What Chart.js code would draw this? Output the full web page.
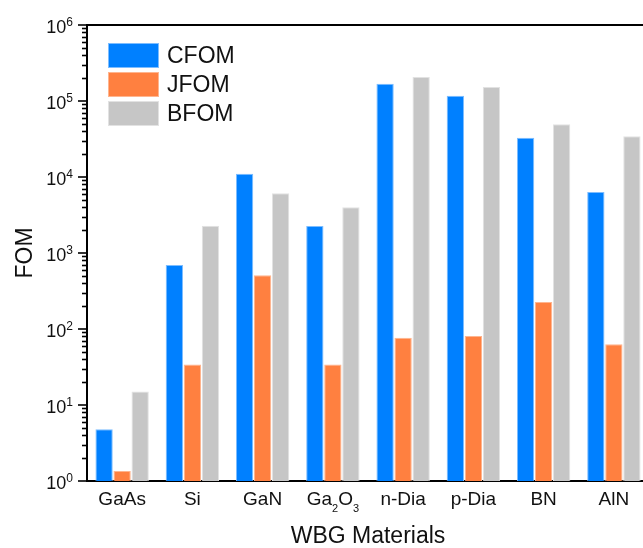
<!DOCTYPE html>
<html>
<head>
<meta charset="utf-8">
<script src="https://cdn.jsdelivr.net/npm/chart.js@4.4.1/dist/chart.umd.min.js"></script>
<style>
  html, body { margin: 0; padding: 0; overflow: hidden; background: #fff; }
  canvas { display: block; }
</style>
</head>
<body>
<canvas id="fom" width="649" height="548"></canvas>
<script>
const materials = ["GaAs", "Si", "GaN", "Ga₂O₃", "n-Dia", "p-Dia", "BN", "AlN"];
const cfom = [4.8, 695, 11050, 2260, 169000, 117500, 32900, 6350];
const jfom = [1.35, 34, 510, 34, 77, 81, 226, 63];
const bfom = [15, 2290, 6100, 3990, 207000, 153000, 49300, 34300];
const decades = [1, 10, 100, 1000, 10000, 100000, 1000000];

const FONT = "'Liberation Sans', Arial, sans-serif";
const INK = "#111";
const SUBS = { "₀": "0", "₁": "1", "₂": "2", "₃": "3", "₄": "4", "₅": "5", "₆": "6", "₇": "7", "₈": "8", "₉": "9" };

// draws a run of text pieces {text, size, dy} on one baseline
function drawRich(ctx, parts, x, y, align) {
  let total = 0;
  parts.forEach(p => {
    ctx.font = p.size + "px " + FONT;
    p.w = ctx.measureText(p.text).width;
    total += p.w;
  });
  let cx = align === "right" ? x - total : align === "center" ? x - total / 2 : x;
  ctx.textAlign = "left";
  ctx.textBaseline = "alphabetic";
  parts.forEach(p => {
    ctx.font = p.size + "px " + FONT;
    ctx.fillText(p.text, cx, y + p.dy);
    cx += p.w;
  });
}

function labelParts(label) {
  const parts = [];
  for (const ch of label) {
    if (SUBS[ch]) parts.push({ text: SUBS[ch], size: 11, dy: 6.5 });
    else if (parts.length && parts[parts.length - 1].size === 19) parts[parts.length - 1].text += ch;
    else parts.push({ text: ch, size: 19, dy: 0 });
  }
  return parts;
}

const axisDecor = {
  id: "axisDecor",
  afterDraw(chart) {
    const { ctx, chartArea, scales } = chart;
    const y = scales.y, x = scales.x;
    ctx.save();
    ctx.strokeStyle = "#000";
    ctx.fillStyle = INK;

    // top frame line
    ctx.lineWidth = 2;
    ctx.beginPath();
    ctx.moveTo(chartArea.left - 1, chartArea.top);
    ctx.lineTo(chart.width, chartArea.top);
    ctx.stroke();

    // log ticks, outward
    ctx.lineWidth = 1.6;
    decades.forEach((d, i) => {
      const py = Math.round(y.getPixelForValue(d));
      ctx.beginPath();
      ctx.moveTo(chartArea.left - 9, py);
      ctx.lineTo(chartArea.left, py);
      ctx.stroke();
      if (i < decades.length - 1) {
        for (let m = 2; m <= 9; m++) {
          const my = Math.round(y.getPixelForValue(d * m)) + 0.5;
          ctx.beginPath();
          ctx.moveTo(chartArea.left - 5, my);
          ctx.lineTo(chartArea.left, my);
          ctx.stroke();
        }
      }
      const exp = Math.round(Math.log10(d));
      drawRich(ctx, [
        { text: "10", size: 18, dy: 0 },
        { text: String(exp), size: 12, dy: -6.5 }
      ], 73, py + 7.5, "right");
    });

    // category labels
    materials.forEach((m, i) => {
      drawRich(ctx, labelParts(m), x.getPixelForValue(i), 505, "center");
    });

    // legend
    chart.data.datasets.forEach((ds, i) => {
      const top = 43 + i * 29;
      ctx.fillStyle = ds.borderColor;
      ctx.fillRect(108, top, 51, 25);
      ctx.fillStyle = ds.backgroundColor;
      ctx.fillRect(109, top + 1, 49, 23);
      ctx.fillStyle = INK;
      ctx.font = "23px " + FONT;
      ctx.textAlign = "left";
      ctx.textBaseline = "middle";
      ctx.fillText(ds.label, 167, top + 13.5);
    });
    ctx.restore();
  }
};

new Chart(document.getElementById("fom"), {
  type: "bar",
  plugins: [axisDecor],
  data: {
    labels: materials,
    datasets: [
      { label: "CFOM", data: cfom, backgroundColor: "#0080ff", borderColor: "#7dbdff" },
      { label: "JFOM", data: jfom, backgroundColor: "#ff8040", borderColor: "#ffb58f" },
      { label: "BFOM", data: bfom, backgroundColor: "#c6c6c6", borderColor: "#e2e2e2" }
    ]
  },
  options: {
    responsive: false,
    animation: false,
    layout: { padding: { top: 25, left: 0, right: 0, bottom: 0 } },
    datasets: {
      bar: { borderWidth: 1, categoryPercentage: 0.77, barPercentage: 0.96 }
    },
    plugins: {
      legend: { display: false },
      tooltip: { enabled: false }
    },
    scales: {
      x: {
        type: "category",
        grid: { display: false },
        border: { display: true, width: 2, color: "#000" },
        ticks: { display: false },
        title: {
          display: true,
          text: "WBG Materials",
          color: INK,
          font: { family: FONT, size: 23, lineHeight: 1 },
          padding: { top: 0, bottom: 0 }
        },
        afterFit(scale) { scale.height = 67; }
      },
      y: {
        type: "logarithmic",
        min: 1,
        max: 1000000,
        grid: { display: false },
        border: { display: true, width: 2, color: "#000" },
        ticks: { display: false },
        title: {
          display: true,
          text: "FOM",
          color: INK,
          font: { family: FONT, size: 23, lineHeight: 1 },
          padding: { top: 14, bottom: 0 }
        },
        afterFit(scale) { scale.width = 87; }
      }
    }
  }
});
</script>
</body>
</html>
